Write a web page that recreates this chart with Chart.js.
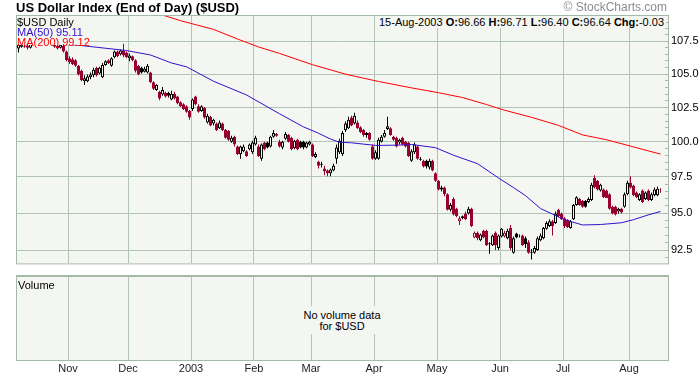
<!DOCTYPE html>
<html><head><meta charset="utf-8">
<script src="https://cdn.jsdelivr.net/npm/chart.js@4.4.0/dist/chart.umd.min.js"></script>
<style>
html,body{margin:0;padding:0;background:#fff;}
#wrap{position:relative;width:700px;height:378px;overflow:hidden;font-family:"Liberation Sans",Arial,sans-serif;color:#000;}
canvas{position:absolute;left:0;}
.t{position:absolute;white-space:nowrap;}
</style></head><body>
<div id="wrap">
<canvas id="price" width="700" height="276" style="top:0"></canvas>
<canvas id="vol" width="700" height="108" style="top:270px"></canvas>
<div id="sep" style="position:absolute;left:16px;top:275px;width:653px;height:1px;background:#a6b9a6;"></div>
<div class="t" id="title" style="left:16px;top:0px;font-size:13px;line-height:15px;font-weight:bold;">US Dollar Index (End of Day) ($USD)</div>
<div class="t" id="copy" style="right:33px;top:0px;font-size:12px;line-height:14px;color:#8c8c8c;">© StockCharts.com</div>
<div class="t" id="legend" style="left:17px;top:16px;width:72px;height:28px;font-size:11px;line-height:10px;padding-top:1px;background:#f4f6f2;"></div>
<div class="t" id="hdr" style="right:34px;top:16px;height:12px;font-size:11px;line-height:12px;padding:0 2px;background:#f4f6f2;"></div>
<div class="t" id="volLabel" style="left:18px;top:279px;font-size:11px;line-height:12px;">Volume</div>
<div class="t" id="novol" style="left:300px;top:306px;width:84px;height:28px;font-size:11px;line-height:11px;padding-top:4px;box-sizing:border-box;text-align:center;background:#f4f6f2;"></div>
</div>
<script>
// ---------- data ----------
const symbol = '$USD';
const holidays = ['2002-11-28','2002-12-25','2003-01-01','2003-01-20','2003-02-17','2003-04-18','2003-05-26','2003-07-04'];
const monthLabels = ['Nov','Dec','2003','Feb','Mar','Apr','May','Jun','Jul','Aug'];
const yMajorTicks = [92.5,95.0,97.5,100.0,102.5,105.0,107.5];

const opens = [
106.94,107.09,107.16,107.16,107.01,
107.52,107.70,107.88,108.05,107.85,108.10,107.90,
107.31,107.16,107.01,107.16,106.72,106.20,106.13,106.05,105.62,105.25,
104.46,104.46,104.75,104.90,105.47,105.04,104.75,105.69,106.05,105.62,
106.27,106.72,106.50,106.79,106.64,106.20,106.35,106.05,105.62,105.47,
105.18,105.11,105.11,104.39,103.81,103.67,103.46,103.60,103.60,103.10,
103.53,103.31,102.89,102.75,102.60,102.25,102.39,103.31,102.60,102.25,
102.46,101.40,101.83,101.33,101.33,100.98,101.33,100.85,100.78,100.01,
100.36,99.67,99.12,99.33,99.33,99.46,99.26,99.81,99.67,98.78,
99.95,99.95,99.67,100.36,100.43,100.01,99.60,100.22,100.50,100.29,
99.53,100.15,100.01,100.01,99.60,99.81,99.81,98.92,98.58,98.37,
98.10,97.96,97.76,97.96,98.78,99.26,99.12,100.85,100.98,101.76,
101.33,101.40,101.05,100.85,100.50,100.64,99.67,98.78,98.78,100.01,
100.36,100.92,100.98,100.36,100.29,99.95,100.29,100.01,99.95,98.64,
99.26,99.67,98.71,98.64,98.64,98.17,98.64,97.76,97.23,96.63,
96.76,96.29,95.23,95.96,95.30,94.45,94.65,94.97,94.97,95.30,
93.35,93.67,93.16,93.80,93.80,92.90,92.83,93.67,92.64,93.41,
93.41,93.29,93.99,92.32,93.61,93.48,93.48,93.29,93.03,92.32,
92.32,92.51,93.16,93.29,93.93,94.12,94.45,94.32,95.23,94.97,
94.65,94.52,93.99,94.58,95.56,95.96,95.83,95.83,95.76,95.89,
97.43,97.23,96.56,96.63,96.56,96.29,95.43,95.43,95.10,95.30,
95.43,96.29,97.09,96.89,96.42,95.89,96.56,95.96,96.56,95.89,
96.23,96.23,96.66];
const highs = [
107.38,107.31,107.31,107.24,107.38,
107.80,107.98,108.15,108.12,108.22,108.18,107.95,
107.38,107.24,107.38,107.24,106.79,106.35,106.27,106.13,105.69,105.33,
104.90,104.97,105.11,105.47,105.55,105.55,105.84,106.05,106.13,106.27,
106.79,106.79,106.87,107.31,106.72,106.57,106.42,106.13,105.69,105.55,
105.55,105.77,105.18,104.46,104.24,103.74,104.03,103.67,103.67,103.74,
103.67,103.38,102.96,102.82,102.67,102.32,103.17,103.38,102.75,102.67,
102.53,102.04,101.90,101.68,101.40,101.54,101.40,100.92,100.85,100.43,
100.43,99.74,99.74,99.81,99.39,99.88,100.08,100.43,99.81,99.88,
100.01,100.01,100.43,100.85,100.64,100.15,100.08,100.71,100.57,100.36,
100.15,100.22,100.08,100.08,100.01,100.08,99.88,99.26,98.64,98.58,
98.30,98.03,98.10,98.44,99.81,100.22,100.78,101.47,101.83,101.90,
102.11,101.54,101.12,100.92,100.71,100.71,99.81,99.39,100.29,100.50,
100.85,101.83,101.05,100.43,100.36,100.22,100.36,100.08,100.01,99.46,
99.95,99.74,98.92,98.71,98.71,98.78,98.71,97.83,97.29,96.89,
96.83,96.36,95.69,96.09,95.36,94.78,94.84,95.10,95.43,95.36,
93.74,93.74,93.61,93.86,93.86,93.03,93.54,93.74,93.54,93.99,
93.80,93.93,94.19,93.41,93.67,93.54,93.54,93.41,93.16,92.57,
92.77,93.41,93.61,94.06,94.45,94.58,94.52,95.10,95.30,95.04,
94.71,94.58,94.52,95.63,96.16,96.03,95.89,95.89,96.09,97.09,
97.63,97.29,97.03,96.69,96.63,96.36,95.50,95.50,95.36,95.36,
96.42,97.23,97.56,96.96,96.49,96.36,96.63,96.49,96.63,96.42,
96.76,96.83,96.71];
const lows = [
106.64,107.01,107.01,106.87,106.94,
107.48,107.62,107.80,107.75,107.78,107.82,107.55,
107.01,106.87,106.94,106.64,105.98,105.77,105.69,105.55,104.89,104.46,
104.17,104.39,104.61,104.75,104.82,104.97,104.68,105.62,105.77,105.55,
106.20,106.27,106.42,106.27,106.20,105.98,105.98,105.11,104.90,105.04,
105.11,105.04,104.32,103.81,103.74,103.03,103.38,103.24,103.24,103.03,
103.10,102.75,102.53,102.32,102.11,101.61,102.25,102.67,102.11,102.18,
101.68,101.33,101.12,101.19,100.78,100.92,100.78,100.22,100.08,99.94,
99.67,99.05,98.78,99.26,98.92,99.39,99.12,99.74,98.92,98.64,
99.39,99.53,99.60,100.29,100.36,99.60,99.46,100.15,99.95,99.39,
99.46,99.39,99.53,99.46,99.53,99.74,98.92,98.85,98.10,98.17,
97.63,97.56,97.56,97.90,98.44,99.12,98.98,100.71,100.92,101.12,
101.26,100.92,100.64,100.36,100.29,100.08,98.71,98.71,98.71,99.95,
100.29,100.85,100.43,100.08,99.60,99.81,99.74,99.60,98.92,98.58,
99.12,98.71,98.64,98.17,98.10,98.03,97.90,97.16,96.56,96.49,
96.16,95.17,95.10,94.84,94.71,94.19,94.58,94.52,94.91,94.06,
93.29,93.16,93.09,93.29,92.77,92.26,92.77,92.51,92.51,93.35,
93.35,93.22,92.51,92.26,93.29,93.35,92.77,92.64,92.26,91.88,
92.26,92.45,93.09,93.22,93.86,94.06,93.48,94.25,94.71,94.52,
93.99,93.99,93.93,94.52,95.50,95.50,95.36,95.36,95.69,95.83,
96.69,96.56,96.49,96.03,96.03,95.23,94.91,94.84,94.97,94.97,
95.36,96.23,96.69,96.16,96.03,95.83,95.69,95.89,95.83,95.83,
96.16,96.16,96.40];
const closes = [
107.24,107.24,107.09,107.01,107.31,
107.70,107.88,108.05,107.85,108.10,107.90,107.65,
107.09,106.94,107.24,106.72,106.05,105.91,105.77,105.62,104.97,104.53,
104.68,104.82,104.97,105.33,104.90,105.47,105.69,105.98,105.84,106.20,
106.72,106.35,106.79,106.42,106.27,106.42,106.05,105.25,104.97,105.11,
105.40,105.62,104.39,103.89,104.17,103.17,103.81,103.31,103.38,103.53,
103.17,102.82,102.60,102.39,102.18,101.76,103.10,102.75,102.18,102.60,
101.76,101.90,101.19,101.61,100.85,101.40,100.85,100.29,100.15,100.29,
99.81,99.12,99.67,99.67,98.98,99.81,99.95,100.29,98.98,99.81,
99.46,99.60,100.36,100.64,100.57,99.67,100.01,100.57,100.01,99.46,
100.08,99.46,99.60,99.60,99.95,100.01,98.98,99.12,98.30,98.44,
97.90,97.76,98.03,98.30,99.60,100.08,100.64,101.33,101.61,101.19,
101.90,100.98,100.71,100.50,100.64,100.15,98.78,99.26,100.15,100.36,
100.64,101.12,100.50,100.15,99.67,100.15,99.81,99.67,98.98,99.33,
99.81,98.78,98.78,98.24,98.24,98.64,97.96,97.23,96.63,96.76,
96.29,95.23,95.56,94.91,94.78,94.65,94.78,94.58,95.30,94.12,
93.67,93.29,93.54,93.35,92.83,92.96,93.48,92.83,93.48,93.93,
93.67,93.80,92.64,93.29,93.35,93.47,92.83,92.90,92.32,92.39,
92.64,93.29,93.48,93.99,94.32,94.45,94.12,94.97,94.78,94.58,
94.12,94.06,94.45,95.56,96.09,95.56,95.43,95.43,95.96,96.96,
96.76,96.63,96.96,96.09,96.03,95.30,94.97,94.91,95.30,95.04,
96.29,97.09,96.76,96.23,96.09,96.29,95.76,96.42,95.89,96.29,
96.63,96.67,96.64];

// moving averages, read at sample points (trading-day index, value)
const ma50Idx = [0,11,20,36,44,51,56,65,76,87,95,100,104,107,111,119,126,131,139,145,153,160,165,169,174,182,188,194,201,205,210,214];
const ma50Val = [107.31,107.31,107.20,106.79,106.45,105.84,105.55,104.46,103.43,102.04,101.08,100.62,100.20,99.97,99.93,99.74,99.76,99.81,99.58,99.04,98.44,97.43,96.76,96.20,95.31,94.55,94.19,94.22,94.34,94.55,94.88,95.11];
const ma200Idx = [44,48,54,65,73,80,87,98,109,120,131,140,148,156,162,171,180,188,196,204,214];
const ma200Val = [109.90,109.56,109.11,108.43,107.68,107.07,106.57,105.71,104.99,104.44,103.96,103.60,103.24,102.72,102.30,101.78,101.19,100.50,100.15,99.69,99.12];

// ---------- styling ----------
const FONT = '"Liberation Sans", Arial, sans-serif';
const GRID = '#b2c5b2';
const FRAME = '#a6b9a6';
const PLOT_BG = '#f4f6f2';
const UP = '#000000';
const DOWN = '#990033';
const MA50C = '#3311cc';
const MA200C = '#ff0000';
const Y_MIN = 91.62, Y_MAX = 109.48;

Chart.defaults.font.family = FONT;
Chart.defaults.animation = false;

function tradingDays(start, end) {
  const out = [];
  const d = new Date(start + 'T00:00:00Z');
  const e = new Date(end + 'T00:00:00Z');
  while (d <= e) {
    const w = d.getUTCDay();
    const s = d.toISOString().slice(0, 10);
    if (w !== 0 && w !== 6 && !holidays.includes(s)) out.push(s);
    d.setUTCDate(d.getUTCDate() + 1);
  }
  return out;
}
const dates = tradingDays('2002-10-09', '2003-08-15');
const N = closes.length;
const monthPos = [];
for (let i = 1; i < dates.length; i++) {
  if (dates[i].slice(0, 7) !== dates[i - 1].slice(0, 7)) monthPos.push(i - 0.5);
}
const X_MIN = -0.5, X_MAX = N + 1.5;

const candleColor = closes.map((c, i) => c >= (i ? closes[i - 1] : opens[i]) ? UP : DOWN);
const hollow = closes.map((c, i) => c > opens[i]);

const yTicks = [];
for (let v = 92.0; v <= 109.01; v += 0.5) yTicks.push(Math.round(v * 10) / 10);
const isMajor = v => yMajorTicks.some(m => Math.abs(m - v) < 1e-6);

const framePlugin = {
  id: 'frame',
  beforeDraw(chart) {
    const { ctx, chartArea: a } = chart;
    ctx.save();
    ctx.fillStyle = PLOT_BG;
    ctx.fillRect(a.left, a.top, a.right - a.left, a.bottom - a.top);
    ctx.restore();
  },
  afterDraw(chart) {
    const { ctx, chartArea: a } = chart;
    ctx.save();
    ctx.strokeStyle = FRAME;
    ctx.lineWidth = 1;
    ctx.strokeRect(a.left - 0.5, a.top - 0.5, a.right - a.left + 1, a.bottom - a.top + 1);
    ctx.restore();
  }
};

// ---------- price chart ----------
new Chart(document.getElementById('price'), {
  type: 'bar',
  data: {
    datasets: [
      {
        type: 'line', data: ma50Idx.map((x, k) => ({ x, y: ma50Val[k] })),
        borderColor: MA50C, borderWidth: 1, pointRadius: 0, tension: 0, order: 0
      },
      {
        type: 'line', data: ma200Idx.map((x, k) => ({ x, y: ma200Val[k] })),
        borderColor: MA200C, borderWidth: 1, pointRadius: 0, tension: 0, order: 0
      },
      {
        type: 'bar', data: opens.map((o, i) => ({ x: i, y: [o, closes[i]] })),
        backgroundColor: hollow.map((h, i) => h ? PLOT_BG : candleColor[i]),
        borderColor: candleColor, borderWidth: 1, borderSkipped: false,
        barThickness: 3, grouped: false, inflateAmount: 0, order: 1
      },
      {
        type: 'bar', data: highs.map((h, i) => ({ x: i, y: [lows[i], h] })),
        backgroundColor: candleColor, borderWidth: 0,
        barThickness: 1, grouped: false, inflateAmount: 0, order: 2
      }
    ]
  },
  options: {
    responsive: false,
    animation: false,
    events: [],
    layout: { padding: { left: 17, top: 16, right: 0, bottom: 2 } },
    plugins: { legend: { display: false }, tooltip: { enabled: false } },
    scales: {
      x: {
        type: 'linear', min: X_MIN, max: X_MAX, offset: false,
        afterBuildTicks: s => { s.ticks = monthPos.map(v => ({ value: v })); },
        afterFit: s => { s.height = 0; },
        ticks: { display: false },
        grid: { color: GRID, drawTicks: false, offset: false },
        border: { display: false }
      },
      y: {
        type: 'logarithmic', position: 'right', min: Y_MIN, max: Y_MAX,
        afterBuildTicks: s => { s.ticks = yTicks.map(v => ({ value: v })); },
        afterFit: s => { s.width = 32; },
        ticks: {
          autoSkip: false, padding: 6, color: '#000', font: { size: 11, family: FONT },
          callback: v => isMajor(v) ? v.toFixed(1) : ''
        },
        grid: {
          color: ctx => (ctx.tick && isMajor(ctx.tick.value)) ? GRID : 'rgba(0,0,0,0)',
          tickColor: FRAME, tickLength: -3, drawTicks: true
        },
        border: { display: false }
      }
    }
  },
  plugins: [framePlugin]
});

// ---------- volume panel ----------
new Chart(document.getElementById('vol'), {
  type: 'bar',
  data: { datasets: [{ data: [] }] },
  options: {
    responsive: false,
    animation: false,
    events: [],
    layout: { padding: { left: 17, top: 7, right: 32, bottom: 0 } },
    plugins: { legend: { display: false }, tooltip: { enabled: false } },
    scales: {
      x: {
        type: 'linear', min: X_MIN, max: X_MAX, offset: false,
        afterBuildTicks: s => { s.ticks = monthPos.map(v => ({ value: v })); },
        afterFit: s => { s.height = 18; },
        ticks: {
          autoSkip: false, maxRotation: 0, padding: 2, color: '#222',
          font: { size: 11, family: FONT },
          callback: v => { const k = monthPos.indexOf(v); return k >= 0 ? monthLabels[k] : ''; }
        },
        grid: { color: GRID, drawTicks: false, offset: false },
        border: { display: false }
      },
      y: { display: false, min: 0, max: 1 }
    }
  },
  plugins: [framePlugin]
});

// ---------- texts ----------
const last = N - 1;
const dParts = dates[dates.length - 1].split('-');
const mNames = ['Jan','Feb','Mar','Apr','May','Jun','Jul','Aug','Sep','Oct','Nov','Dec'];
const dateStr = `${+dParts[2]}-${mNames[+dParts[1] - 1]}-${dParts[0]}`;
const chg = (closes[last] - closes[last - 1]).toFixed(2);
document.getElementById('hdr').innerHTML =
  `${dateStr} <b>O:</b>${opens[last].toFixed(2)} <b>H:</b>${highs[last].toFixed(2)} <b>L:</b>${lows[last].toFixed(2)} <b>C:</b>${closes[last].toFixed(2)} <b>Chg:</b>${chg}`;
document.getElementById('legend').innerHTML =
  `<div>${symbol} Daily</div><div style="color:${MA50C}">MA(50) ${ma50Val[ma50Val.length - 1].toFixed(2)}</div><div style="color:${MA200C}">MA(200) ${ma200Val[ma200Val.length - 1].toFixed(2)}</div>`;
document.getElementById('novol').innerHTML = `No volume data<br>for ${symbol}`;
</script>
</body></html>
